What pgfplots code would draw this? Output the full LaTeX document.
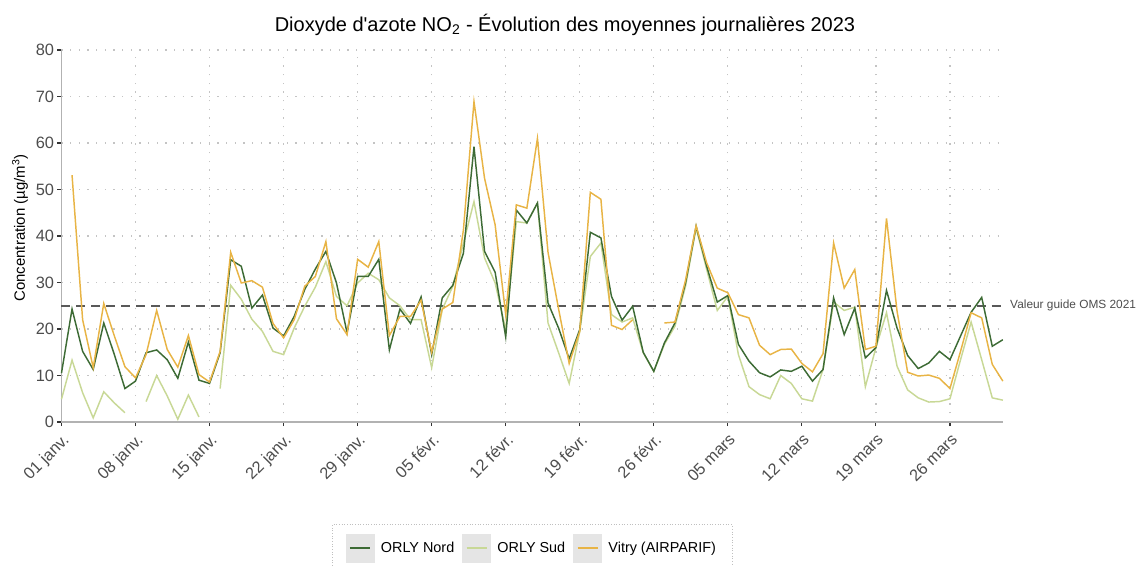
\documentclass[border=0pt]{standalone}
\usepackage{fontspec}
\setmainfont{Liberation Sans}
\usepackage{pgfplots}
\pgfplotsset{compat=1.18}
\usepackage{pgfplotstable}

\definecolor{nord}{HTML}{3D6B35}
\definecolor{sud}{HTML}{C8D896}
\definecolor{vitry}{HTML}{E8B445}
\definecolor{txtgrey}{HTML}{4D4D4D}
\definecolor{gridgrey}{HTML}{C4C4C4}

% moyennes journalieres NO2, jour 0 = 01 janv. 2023
\pgfplotstableread{
d nord sud vitry
0 10.5 4.9 nan
1 24.3 13.3 53.1
2 15.2 6.3 22.0
3 11.3 0.9 11.7
4 21.3 6.5 25.5
5 14.5 4.1 18.5
6 7.2 2.0 11.9
7 8.8 nan 9.5
8 14.9 4.4 14.5
9 15.5 10.0 24.0
10 13.4 5.6 15.6
11 9.4 0.6 11.8
12 17.2 5.8 18.6
13 9.0 1.1 10.2
14 8.3 nan 8.6
15 14.9 7.2 15.2
16 34.9 29.4 36.5
17 33.5 26.4 29.9
18 24.5 22.1 30.4
19 27.3 19.5 29.0
20 20.2 15.2 21.2
21 18.5 14.5 18.1
22 22.7 20.2 22.0
23 28.5 24.9 29.2
24 32.9 29.0 31.3
25 36.7 34.5 38.8
26 29.9 27.0 22.2
27 19.2 25.0 18.8
28 31.3 29.9 35.0
29 31.3 32.0 33.3
30 35.0 30.6 38.8
31 15.5 26.7 18.6
32 24.3 25.0 22.7
33 21.2 22.0 22.7
34 26.9 22.0 26.2
35 14.5 11.7 15.0
36 26.7 24.2 24.3
37 29.4 29.2 25.7
38 36.3 38.5 41.3
39 59.2 47.4 68.9
40 36.7 35.3 52.4
41 32.2 29.9 42.4
42 18.3 19.9 23.1
43 45.6 43.1 46.7
44 42.8 42.8 46.0
45 47.1 47.1 61.0
46 25.6 21.3 36.5
47 20.2 14.9 24.3
48 13.6 8.3 12.6
49 19.9 19.5 19.5
50 40.8 35.6 49.4
51 39.6 38.5 47.9
52 27.0 23.1 20.8
53 21.9 21.5 19.9
54 24.9 22.4 22.0
55 15.0 14.9 nan
56 10.9 10.9 nan
57 17.0 16.7 21.3
58 21.3 20.6 21.5
59 29.9 29.2 30.5
60 42.1 41.7 42.2
61 33.5 32.8 34.2
62 25.8 24.0 28.8
63 27.2 27.0 27.8
64 16.7 14.5 23.1
65 13.1 7.6 22.4
66 10.6 5.9 16.5
67 9.7 5.0 14.5
68 11.2 10.0 15.6
69 10.9 8.3 15.7
70 12.0 5.0 12.6
71 8.8 4.5 10.8
72 11.3 11.3 14.7
73 26.7 25.8 38.5
74 18.8 24.0 28.8
75 24.5 24.7 32.8
76 13.8 7.6 15.6
77 16.0 16.0 16.3
78 28.3 23.5 43.8
79 20.2 12.0 23.8
80 14.3 6.9 10.7
81 11.5 5.2 9.9
82 12.7 4.3 10.1
83 15.2 4.4 9.4
84 13.4 5.0 7.2
85 18.5 13.4 15.2
86 23.6 21.5 23.5
87 26.8 13.4 22.4
88 16.3 5.2 12.4
89 17.7 4.7 8.8
}\notwodata

\begin{document}
\begin{tikzpicture}
\useasboundingbox (-46.1pt,-107.25pt) rectangle (806.6pt,316.5pt);
\begin{axis}[
  scale only axis, width=706pt, height=279pt,
  xmin=0, xmax=89, ymin=0, ymax=80,
  axis lines=left,
  axis line style={-, draw=black!30, line width=1.4pt},
  xtick={0,7,...,84},
  xticklabels={01 janv.,08 janv.,15 janv.,22 janv.,29 janv.,05 févr.,12 févr.,19 févr.,26 févr.,05 mars,12 mars,19 mars,26 mars},
  ytick={0,10,...,80},
  tick align=outside, major tick length=3pt,
  tick style={draw=black!80, line width=0.8pt},
  grid=major,
  major grid style={draw=gridgrey, line width=0.9pt, dash pattern=on 0.9pt off 5.6pt},
  tick label style={font=\fontsize{12.3}{14}\selectfont, text=txtgrey},
  y tick label style={xshift=1pt},
  x tick label style={rotate=45, anchor=north east},
  /pgf/number format/assume math mode=true,
  clip=false,
  unbounded coords=jump,
  legend columns=3,
  legend image code/.code={
    \fill[black!10] (0pt,-10.5pt) rectangle (21pt,10.5pt);
    \draw[#1,solid,line width=1.3pt] (3pt,0pt) -- (18pt,0pt);
  },
  legend style={name=leg, at={(0.5,0)}, anchor=north, yshift=-77pt,
    draw=none, fill=none, inner xsep=10pt, inner ysep=6.5pt,
    font=\fontsize{10.8}{12}\selectfont,
    /tikz/every odd column/.append style={column sep=3pt},
    /tikz/every even column/.append style={column sep=4pt}},
]
\addlegendimage{nord}
\addlegendentry{ORLY Nord}
\addlegendimage{sud}
\addlegendentry{ORLY Sud}
\addlegendimage{vitry}
\addlegendentry{Vitry (AIRPARIF)}

\addplot[forget plot, draw=black!65, line width=1.5pt, dash pattern=on 6.75pt off 4.5pt] coordinates {(0,25) (89,25)};
\addplot[forget plot, sud, line width=1.1pt] table[x=d, y=sud] {\notwodata};
\addplot[forget plot, nord, line width=1.1pt] table[x=d, y=nord] {\notwodata};
\addplot[forget plot, vitry, line width=1.1pt] table[x=d, y=vitry] {\notwodata};

\node[anchor=west, xshift=2pt, font=\fontsize{8.9}{10}\selectfont, text=txtgrey] at (axis cs:89,25) {Valeur guide OMS 2021};
\end{axis}
\draw[black!25, dash pattern=on 0.7pt off 1.3pt] (leg.south west) rectangle (leg.north east);
\node[font=\fontsize{15}{17}\selectfont] at (377.6pt,297.75pt) {Dioxyde d\textquotesingle azote NO\textsubscript{2} - Évolution des moyennes journalières 2023};
\node[rotate=90, font=\fontsize{11.2}{13}\selectfont] at (-31.1pt,145.5pt) {Concentration (µg/m\textsuperscript{3})};
\end{tikzpicture}
\end{document}
